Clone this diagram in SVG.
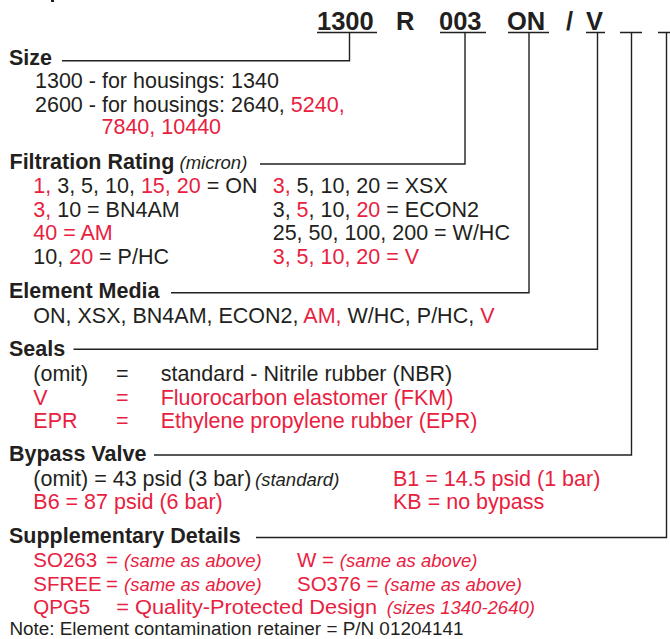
<svg xmlns="http://www.w3.org/2000/svg" width="670" height="639" viewBox="0 0 670 639">
<style>
text{font-family:"Liberation Sans",Arial,Helvetica,sans-serif;fill:#231f20;font-size:21.5px}
.h{font-weight:bold;font-size:21.5px}
.code{font-weight:bold;font-size:25.5px}
.r{fill:#e8213f}
.i{font-style:italic;font-size:18.5px}
.s{font-size:20.5px}
.n{font-size:18px}
.ln{fill:none;stroke:#231f20;stroke-width:1.4}
.ul{fill:none;stroke:#231f20;stroke-width:1.6}
</style>
<rect width="670" height="639" fill="#ffffff"/>
<rect x="51" y="0" width="3" height="2" fill="#231f20"/>

<g id="code">
<text class="code" x="317" y="29.5">1300</text>
<text class="code" x="396" y="29.5">R</text>
<text class="code" x="439" y="29.5">003</text>
<text class="code" x="507" y="29.5">ON</text>
<text class="code" x="566" y="29.5">/</text>
<text class="code" x="586" y="29.5">V</text>
<path class="ul" d="M317 32.5H377M440 32.5H486M508 32.5H549M586 32.5H605M620 32.5H642M658 32.5H670"/>
</g>

<g id="connectors">
<path class="ln" d="M349.5 32.5V60.7H62"/>
<path class="ln" d="M465 32.5V164H260"/>
<path class="ln" d="M529 32.5V292.7H171"/>
<path class="ln" d="M597.5 32.5V349.3H73.5"/>
<path class="ln" d="M631.5 32.5V455H154"/>
<path class="ln" d="M666.5 32.5V537.5H256"/>
</g>

<g id="size">
<text class="h" x="9" y="64.5">Size</text>
<text x="35" y="88.3">1300 - for housings: 1340</text>
<text x="35" y="111.7">2600 - for housings: 2640, <tspan class="r">5240,</tspan></text>
<text class="r" x="101.5" y="134.3">7840, 10440</text>
</g>

<g id="filtration">
<text x="9.5" y="168.5"><tspan class="h">Filtration Rating</tspan><tspan class="i"> (micron)</tspan></text>
<text x="33.3" y="193.3"><tspan class="r">1,</tspan> 3, 5, 10, <tspan class="r">15, 20</tspan> = ON</text>
<text x="33.3" y="216.7"><tspan class="r">3,</tspan> 10 = BN4AM</text>
<text class="r" x="33.3" y="240">40 = AM</text>
<text x="33.3" y="264">10, <tspan class="r">20</tspan> = P/HC</text>
<text x="272.7" y="193.3"><tspan class="r">3,</tspan> 5, 10, 20 = XSX</text>
<text x="272.7" y="216.7">3, <tspan class="r">5</tspan>, 10, <tspan class="r">20</tspan> = ECON2</text>
<text x="272.7" y="240">25, 50, 100, 200 = W/HC</text>
<text class="r" x="272.7" y="264">3, 5, 10, 20 = V</text>
</g>

<g id="media">
<text class="h" x="9" y="298.3">Element Media</text>
<text x="33.3" y="323.3">ON, XSX, BN4AM, ECON2, <tspan class="r">AM,</tspan> W/HC, P/HC, <tspan class="r">V</tspan></text>
</g>

<g id="seals">
<text class="h" x="9" y="355.5">Seals</text>
<text x="33.3" y="381">(omit)</text>
<text x="116" y="381">=</text>
<text x="160.7" y="381">standard - Nitrile rubber (NBR)</text>
<text class="r" x="33.3" y="405">V</text>
<text class="r" x="116" y="405">=</text>
<text class="r" x="160.7" y="405">Fluorocarbon elastomer (FKM)</text>
<text class="r" x="33.3" y="428.3">EPR</text>
<text class="r" x="116" y="428.3">=</text>
<text class="r" x="160.7" y="428.3">Ethylene propylene rubber (EPR)</text>
</g>

<g id="bypass">
<text class="h" x="9" y="460.5">Bypass Valve</text>
<text x="33.3" y="486">(omit) = 43 psid (3 bar)</text>
<text class="i" x="255" y="486">(standard)</text>
<text class="r" x="393" y="486">B1 = 14.5 psid (1 bar)</text>
<text class="r" x="33.3" y="509.3">B6 = 87 psid (6 bar)</text>
<text class="r" x="393" y="509.3">KB = no bypass</text>
</g>

<g id="supplementary">
<text class="h" x="9" y="542.5">Supplementary Details</text>
<text class="r s" x="33.3" y="566.7">SO263</text>
<text class="r s" x="106" y="566.7">=</text>
<text class="r i" x="124" y="566.7">(same as above)</text>
<text class="r s" x="297" y="566.7">W = <tspan class="i">(same as above)</tspan></text>
<text class="r s" x="33.3" y="590.7">SFREE</text>
<text class="r s" x="106" y="590.7">=</text>
<text class="r i" x="124" y="590.7">(same as above)</text>
<text class="r s" x="297" y="590.7">SO376 = <tspan class="i">(same as above)</tspan></text>
<text class="r s" x="33.3" y="613.8">QPG5</text>
<text class="r s" x="116.2" y="613.8" textLength="261" lengthAdjust="spacingAndGlyphs">= Quality-Protected Design</text>
<text class="r i" x="386.8" y="613.8">(sizes 1340-2640)</text>
<text class="n" x="9.4" y="634.5" textLength="454" lengthAdjust="spacingAndGlyphs">Note: Element contamination retainer = P/N 01204141</text>
</g>
</svg>
